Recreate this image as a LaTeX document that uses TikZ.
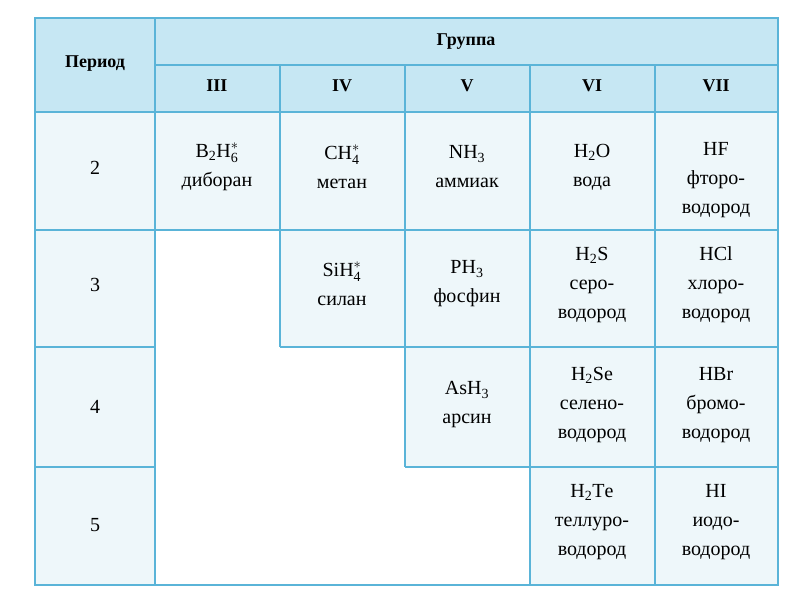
\documentclass[tikz,border=0pt]{standalone}
\usepackage{fontspec}
\setmainfont{Liberation Serif}
\definecolor{bl}{HTML}{5AB4D8}
\definecolor{hd}{HTML}{C6E7F3}
\definecolor{cl}{HTML}{EEF7FA}
\tikzset{ln/.style={draw=bl,line width=1.6pt},
 tx/.style={align=center,font=\fontsize{20}{29}\selectfont},
 hx/.style={font=\bfseries\fontsize{18}{20}\selectfont}}
\begin{document}
\begin{tikzpicture}[x=1pt,y=-1pt]
\useasboundingbox (0,0) rectangle (800,615);
\fill[white] (0,0) rectangle (800,615);
\fill[hd] (35,18) rectangle (778,112);
\fill[cl] (35,112) rectangle (778,585);
\fill[white] (155,230) rectangle (280,585);
\fill[white] (280,347) rectangle (405,585);
\fill[white] (405,467) rectangle (530,585);
\draw[ln] (35,18) rectangle (778,585);
\draw[ln] (35,112) -- (778,112);
\draw[ln] (155,65) -- (778,65);
\draw[ln] (155,18) -- (155,585);
\foreach \x in {280,405,530,655} \draw[ln] (\x,65) -- (\x,230);
\draw[ln] (35,230) -- (778,230);
\foreach \x in {280,405,530,655} \draw[ln] (\x,230) -- (\x,347);
\draw[ln] (35,347) -- (155,347) (280,347) -- (778,347);
\foreach \x in {405,530,655} \draw[ln] (\x,347) -- (\x,467);
\draw[ln] (35,467) -- (155,467) (405,467) -- (778,467);
\foreach \x in {530,655} \draw[ln] (\x,467) -- (\x,585);
\node[hx] (per) at (95,64) {Период};
\node[hx] (grp) at (466,42) {Группа};
\node[hx] (g3) at (217,86) {III};
\node[hx] (g4) at (342,86) {IV};
\node[hx] (g5) at (467,86) {V};
\node[hx] (g6) at (592,86) {VI};
\node[hx] (g7) at (716,86) {VII};
\node[tx] (p2) at (95,168) {2};
\node[tx] (p3) at (95,285) {3};
\node[tx] (p4) at (95,407) {4};
\node[tx] (p5) at (95,525) {5};
\node[tx] (c23) at (217,167) {$\mathrm{B_2H_6^*}$\\диборан};
\node[tx] (c24) at (342,167) {$\mathrm{CH_4^*}$\\метан};
\node[tx] (c25) at (467,167) {$\mathrm{NH_3}$\\аммиак};
\node[tx] (c26) at (592,167) {$\mathrm{H_2O}$\\вода};
\node[tx] (c27) at (716,180) {HF\\фторо-\\водород};
\node[tx] (c34) at (342,284) {$\mathrm{SiH_4^*}$\\силан};
\node[tx] (c35) at (467,284) {$\mathrm{PH_3}$\\фосфин};
\node[tx] (c36) at (592,285) {$\mathrm{H_2S}$\\серо-\\водород};
\node[tx] (c37) at (716,285) {HCl\\хлоро-\\водород};
\node[tx] (c45) at (467,405) {$\mathrm{AsH_3}$\\арсин};
\node[tx] (c46) at (592,405) {$\mathrm{H_2Se}$\\селено-\\водород};
\node[tx] (c47) at (716,405) {HBr\\бромо-\\водород};
\node[tx] (c56) at (592,522) {$\mathrm{H_2Te}$\\теллуро-\\водород};
\node[tx] (c57) at (716,522) {HI\\иодо-\\водород};
\end{tikzpicture}
\end{document}
